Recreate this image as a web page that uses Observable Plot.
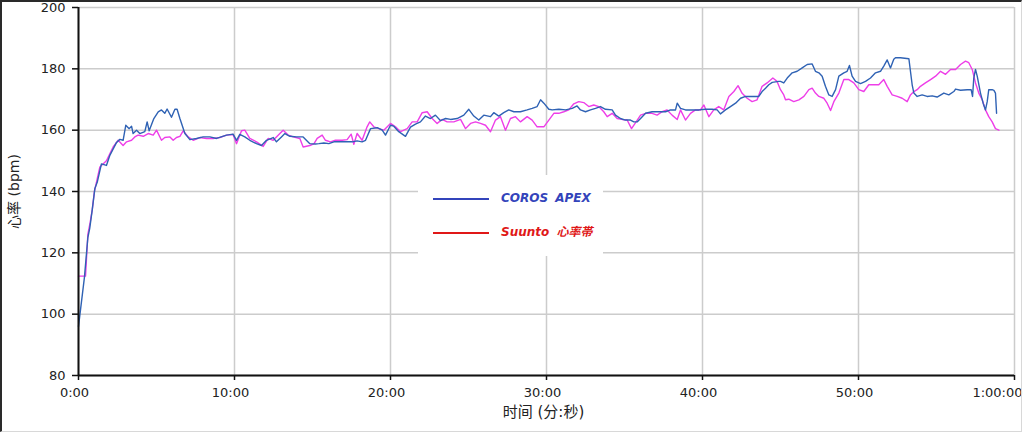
<!DOCTYPE html>
<html><head><meta charset="utf-8">
<script src="https://cdn.jsdelivr.net/npm/d3@7"></script>
<script src="https://cdn.jsdelivr.net/npm/@observablehq/plot@0.6"></script>
<style>
body{margin:0;background:#fff;}
#wrap{position:relative;width:1024px;height:434px;overflow:hidden;font-family:"DejaVu Sans","Noto Sans CJK SC",sans-serif;}
#chart{position:absolute;left:0;top:0;}
#legend{position:absolute;left:418px;top:175px;width:185px;height:81px;background:#fff;}
.lg-line{position:absolute;left:15px;width:56px;height:2px;}
.lg-text{position:absolute;left:83px;font-weight:bold;font-style:italic;font-size:12px;white-space:nowrap;line-height:14px;word-spacing:3px;}
#frame{position:absolute;left:0;top:0;width:1022px;height:432px;box-sizing:border-box;border-top:2px solid #2a2a2a;border-left:2px solid #2a2a2a;border-right:1px solid #d8d8d8;border-bottom:1px solid #d8d8d8;pointer-events:none;}
</style></head>
<body>
<div id="wrap">
  <div id="chart"></div>
  <div id="legend">
    <div class="lg-line" id="lg1" style="top:23px"></div>
    <div class="lg-text" id="lt1" style="top:16px"></div>
    <div class="lg-line" id="lg2" style="top:57px"></div>
    <div class="lg-text" id="lt2" style="top:50px"></div>
  </div>
  <div id="frame"></div>
</div>
<script>
// ---- data ----
const seriesNames = ["COROS APEX", "Suunto 心率帯"];
const seriesColors = ["#2f62b4", "#ee3ee8"];
const legendColors = ["#3344bb", "#e01818"];
const xTitle = "时间 (分:秒)";
const yTitle = "心率 (bpm)";
const xTicks = [0, 10, 20, 30, 40, 50, 60];
const xTickLabels = ["0:00", "10:00", "20:00", "30:00", "40:00", "50:00", "1:00:00"];
const yTicks = [80, 100, 120, 140, 160, 180, 200];

// COROS APEX: time (min), heart rate (bpm)
const corosT = [0,0.38,0.6,0.72,0.88,1.05,1.2,1.47,1.79,2.01,2.44,2.65,2.86,3.03,3.25,3.40,3.50,3.72,3.93,4.25,4.40,4.53,4.83,5.11,5.32,5.53,5.68,5.96,6.18,6.32,6.50,6.82,7.14,7.56,7.99,8.42,8.85,9.49,9.91,10.13,10.34,10.66,10.98,11.41,11.73,12.05,12.48,12.69,13.01,13.23,13.55,13.97,14.40,14.83,15.19,15.41,15.73,16.05,16.37,16.79,17.22,17.54,17.86,18.18,18.40,18.72,19.15,19.47,19.68,20.0,20.21,20.53,20.96,21.28,21.60,21.92,22.24,22.56,22.88,23.21,23.53,23.85,24.27,24.70,25.02,25.34,25.66,25.98,26.41,26.62,26.94,27.26,27.58,27.91,28.33,28.76,29.08,29.40,29.62,29.83,30.15,30.36,30.79,31.22,31.65,31.96,32.18,32.50,32.82,33.14,33.46,33.78,34.21,34.42,34.74,35.06,35.38,35.60,35.81,36.03,36.35,36.77,37.20,37.63,37.95,38.27,38.38,38.59,38.91,39.34,39.77,40.19,40.62,40.94,41.15,41.47,41.79,42.12,42.44,42.76,43.08,43.40,43.61,43.82,44.04,44.25,44.47,44.89,45.0,45.21,45.43,45.75,46.07,46.39,46.71,47.03,47.24,47.46,47.67,47.88,48.10,48.31,48.53,48.74,49.06,49.27,49.42,49.59,49.81,50.13,50.45,50.77,51.09,51.41,51.62,51.84,52.05,52.26,52.37,52.69,53.23,53.44,53.55,53.76,54.08,54.40,54.72,55.04,55.47,55.79,56.11,56.22,56.54,56.97,57.22,57.31,57.39,57.50,57.61,57.82,57.99,58.14,58.25,58.35,58.57,58.68,58.78,58.85];
const corosHR = [96,112,125,128,134,141,143,149,148.5,151.8,156,157,156.7,161.6,160.5,161.3,158.9,160,158.9,159.5,162.7,159.8,163.8,166,166.6,165.5,166.9,164.2,166.8,166.8,163.8,158.9,156.9,157.3,157.8,157.8,157.3,158.4,158.7,156.7,158.6,157.8,156.7,155.6,155,156.7,157.6,156.2,157.8,158.9,158,157.8,157.8,155.6,155.5,155.6,155.8,155.6,156.2,156.2,156.2,156.2,156.5,156.2,156.7,160.5,160.8,160,158.4,161.6,161.3,159.5,158,161,162,162.7,164.6,163.8,164.9,163.1,163.8,163.5,163.8,164.9,166.8,164.6,163.3,164.9,164.4,165.7,164.6,165.7,166.6,166,166,166.6,167.1,167.7,169.9,168.8,166.8,166.6,166.8,166.6,167.1,167.9,166.6,166,166.6,167.1,167.7,166.8,166.6,164.9,163.8,163.3,163.3,162.7,162.7,163.8,165.5,166,166,166,166.6,166.6,168.8,167.1,166.6,166.6,166.6,166.8,166.8,166.6,165.3,166.6,167.7,168.8,170.4,171,171,171,171,172.6,173.7,174.8,175.6,175.9,175.9,175.4,177,178.7,179.2,180.3,181.4,181.6,179.2,178.7,177.6,174.3,171.5,171,173.2,177.6,178.7,179.2,181.1,177.6,175.9,175.2,175.9,177,178.7,179.2,180.9,182.9,180.3,183.1,183.6,183.6,183.3,174.8,172.1,171,171.5,171,171.2,170.8,172.1,171.5,172.6,173.4,173,173.2,173.2,171,177,179.8,177.6,172.1,168.8,166.6,169.3,173.2,173.2,173,172.1,165.5];

// Suunto chest strap: time (min), heart rate (bpm)
const suuntoT = [0,0.45,0.6,0.75,0.88,1.02,1.37,1.79,2.22,2.54,2.86,3.08,3.40,3.61,3.82,4.15,4.47,4.79,5.00,5.32,5.53,5.86,6.07,6.28,6.50,6.71,7.03,7.35,7.78,8.21,8.63,9.06,9.49,9.91,10.13,10.45,10.66,10.98,11.41,11.84,12.16,12.48,12.91,13.12,13.44,13.76,14.19,14.40,14.83,15.09,15.30,15.62,15.83,16.15,16.47,16.90,17.22,17.48,17.65,17.86,18.18,18.50,18.67,18.93,19.25,19.57,20.0,20.32,20.64,21.07,21.39,21.71,22.03,22.35,22.67,22.99,23.31,23.63,24.06,24.49,24.81,25.13,25.45,25.77,26.09,26.41,26.73,27.05,27.37,27.69,28.01,28.33,28.76,29.08,29.40,29.83,30.15,30.47,30.79,31.11,31.43,31.75,32.07,32.39,32.71,33.03,33.35,33.67,33.89,34.21,34.53,34.85,35.17,35.45,35.70,36.03,36.35,36.77,37.09,37.41,37.73,38.05,38.38,38.59,38.91,39.23,39.55,39.87,40.09,40.41,40.72,41.04,41.36,41.69,42.01,42.28,42.54,42.86,43.18,43.50,43.82,44.14,44.51,44.78,45.0,45.21,45.32,45.53,45.85,46.18,46.50,46.82,47.03,47.24,47.46,47.78,47.99,48.21,48.42,48.74,49.06,49.38,49.70,50.02,50.34,50.66,50.98,51.30,51.62,51.84,52.16,52.48,52.80,53.12,53.33,53.55,53.76,53.97,54.29,54.62,54.94,55.26,55.58,55.90,56.22,56.54,56.86,57.07,57.29,57.50,57.71,57.93,58.14,58.35,58.57,58.78,59.0];
const suuntoHR = [112.4,112.4,126,130,134,140,148,150,154.5,156.7,155,156.2,156.7,157.8,158.4,158,158.9,158.4,160,156.7,157.6,157.8,156.7,157.6,158,159.8,157.8,156.7,157.6,157.3,157.3,157.6,158.4,158.6,155.6,159.8,160,157.3,156.2,154.7,157.3,156.7,158.9,160,158.4,157.8,157.3,154.5,155,155.5,157.3,158.4,156.7,156.2,156.7,156.7,156.9,158.7,155.4,158.9,156.7,161.1,162.7,161.1,160.5,160,162.2,161.1,159.5,160.5,162.7,162.7,165.7,166,163.8,162.2,163.5,162.7,162.7,163.5,160.5,162.2,162.7,162.2,161.6,159.5,163.3,164.4,160,163.8,164.4,162.7,164.4,163.3,161.1,161.1,163.3,165.5,165.5,166,166.6,168.6,169.3,169,167.7,168.2,167.7,166,164.4,165.5,163.8,163.5,163.3,160.5,162.4,164.9,165.5,165.5,164.9,166,166.6,164.9,163.5,166.6,163.3,165.5,166.6,166.6,168.2,164.4,166.6,167.7,166.6,171,172.6,174.5,172,170.4,169.3,169.9,174.3,175.4,177,175.9,173.2,171.5,169.9,170.1,169.3,169.9,171,173.2,173.7,172.1,171,170.4,168.8,166.4,169.3,172.1,176.5,176.5,175.4,173.2,172.6,174.8,174.8,174.8,176.5,174.3,171.5,171,170.4,169.3,171.5,172.6,173.2,174.3,175.4,176.5,177.6,179.2,178.2,179.8,179.8,181.4,182.5,182,179.8,175.4,172.1,169.9,166.6,164.4,162.7,160.5,160];

const coros = corosT.map((t, i) => ({t, hr: corosHR[i]}));
const suunto = suuntoT.map((t, i) => ({t, hr: suuntoHR[i]}));
const labelOf = d => xTickLabels[xTicks.indexOf(d)];

const font = '"DejaVu Sans","Noto Sans CJK SC",sans-serif';
const gridColor = "#cccccc";

const chart = Plot.plot({
  width: 1024,
  height: 434,
  marginLeft: 78,
  marginRight: 10,
  marginTop: 7,
  marginBottom: 59,
  style: {fontFamily: font, fontSize: "13px", color: "#222", background: "transparent"},
  x: {domain: [0, 60], axis: null},
  y: {domain: [80, 200], axis: null},
  marks: [
    Plot.gridX(xTicks, {stroke: gridColor, strokeOpacity: 1, strokeWidth: 1.5}),
    Plot.gridY(yTicks, {stroke: gridColor, strokeOpacity: 1, strokeWidth: 1.5}),
    Plot.line(suunto, {x: "t", y: "hr", stroke: seriesColors[1], strokeWidth: 1.4}),
    Plot.line(coros, {x: "t", y: "hr", stroke: seriesColors[0], strokeWidth: 1.4}),
    Plot.ruleX([0], {stroke: "#111", strokeWidth: 2}),
    Plot.ruleY([80], {stroke: "#111", strokeWidth: 2}),
    Plot.axisY({ticks: yTicks, tickSize: 6, tickPadding: 7, fontSize: 13, label: null, stroke: "#111", strokeWidth: 1.5, fill: "#222"}),
    Plot.axisX({ticks: xTicks, tickSize: 5, tickFormat: () => "", label: null, stroke: "#111", strokeWidth: 1.5}),
    Plot.text(xTicks.slice(0, -1), {x: d => d, y: 80, text: labelOf, dy: 17, dx: -4, fontSize: 13, fill: "#222"}),
    Plot.text(xTicks.slice(-1), {x: d => d, y: 80, text: labelOf, dy: 17, dx: 8, textAnchor: "end", fontSize: 13, fill: "#222"}),
    Plot.text([xTitle], {frameAnchor: "bottom", text: d => d, dy: 41, dx: -3, fontSize: 15, fill: "#222"}),
    Plot.text([yTitle], {frameAnchor: "left", text: d => d, rotate: -90, textAnchor: "middle", lineAnchor: "middle", dx: -64, fontSize: 14, fill: "#222"})
  ]
});
document.getElementById("chart").appendChild(chart);

document.getElementById("lg1").style.background = legendColors[0];
document.getElementById("lg2").style.background = legendColors[1];
const lt1 = document.getElementById("lt1");
lt1.textContent = seriesNames[0];
lt1.style.color = legendColors[0];
const lt2 = document.getElementById("lt2");
lt2.textContent = seriesNames[1];
lt2.style.color = legendColors[1];
</script>
</body></html>
